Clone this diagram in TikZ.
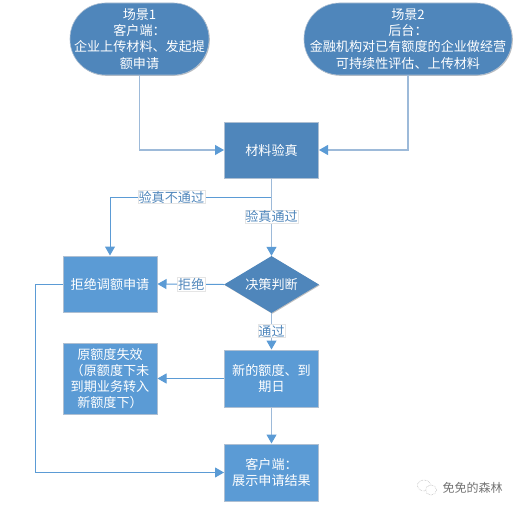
\documentclass[tikz,border=0pt]{standalone}
\usepackage{fontspec}
\setmainfont{Noto Sans CJK SC}
\usetikzlibrary{arrows.meta,shapes.geometric,shadows}
\definecolor{darkblue}{HTML}{4F86BB}
\definecolor{midblue}{HTML}{5B9BD5}
\definecolor{edgegray}{HTML}{AEBFD2}
\definecolor{linklight}{HTML}{9DBAD9}
\tikzset{
  x=1pt,y=-1pt,
  txt/.style={text=white,font=\fontsize{13.1}{16.2}\selectfont,align=center,inner sep=0pt},
  softshadow/.style={drop shadow={shadow xshift=0.8pt,shadow yshift=-0.8pt,opacity=0.25,fill=black}},
  pill/.style={txt,draw=edgegray,line width=0.6pt,fill=darkblue,rectangle,rounded corners=35.5pt,softshadow},
  darkbox/.style={txt,draw=edgegray,line width=1pt,fill=darkblue,minimum width=94pt,softshadow},
  lightbox/.style={txt,draw=edgegray,line width=1pt,fill=midblue,minimum width=94pt,softshadow},
  decide/.style={txt,fill=darkblue,diamond,aspect=1.66,minimum width=95pt,minimum height=57pt,softshadow},
  link/.style={draw=midblue,line width=1pt,-{Triangle[length=9pt,width=10pt,color=midblue]}},
  linkpale/.style={link,draw=linklight,line width=1.1pt},
  tag/.style={text=darkblue,fill=white,draw=black!10,line width=0.4pt,font=\fontsize{13.1}{15}\selectfont,inner sep=0.6pt},
}
\begin{document}
\begin{tikzpicture}
\useasboundingbox (0,0) rectangle (519,511);
\fill[white] (0,0) rectangle (519,511);
\node[pill,minimum width=139pt,minimum height=72pt] (s1) at (139.5,39) {场景1\\客户端：\\企业上传材料、发起提\\额申请};
\node[pill,minimum width=208pt,minimum height=72pt] (s2) at (408,39) {场景2\\后台：\\金融机构对已有额度的企业做经营\\可持续性评估、上传材料};
\node[darkbox,minimum height=56pt] (verify) at (271.5,150) {材料验真};
\node[decide] (judge) at (271.5,284.5) {决策判断};
\node[lightbox,minimum height=56pt] (reject) at (110,284) {拒绝调额申请};
\node[lightbox,minimum height=71pt] (old) at (110,378.5) {原额度失效\\（原额度下未\\到期业务转入\\新额度下）};
\node[lightbox,minimum height=57pt] (new) at (271.5,378.5) {新的额度、到\\期日};
\node[lightbox,minimum height=57pt] (client) at (271.5,472.5) {客户端：\\展示申请结果};
\coordinate (a1) at (s1.south |- verify.west);
\coordinate (a2) at (s2.south |- verify.east);
\draw[linkpale] (s1.south) -- (a1) -- (verify.west);
\draw[linkpale] (s2.south) -- (a2) -- (verify.east);
\coordinate (b1) at (271.5,197);
\coordinate (b2) at (reject.north |- b1);
\draw[link] (verify.south) -- (b1) -- node[tag,pos=0.62] {验真不通过} (b2) -- (reject.north);
\draw[linkpale] (verify.south) -- node[tag,pos=0.49] {验真通过} (judge.north);
\draw[link] (judge.west) -- node[tag,pos=0.49] {拒绝} (reject.east);
\draw[linkpale] (judge.south) -- node[tag,pos=0.49] {通过} (new.north);
\draw[link] (new.west) -- (old.east);
\draw[linkpale] (new.south) -- (client.north);
\coordinate (c1) at (35,284);
\coordinate (c2) at (35,472.5);
\draw[link] (reject.west) -- (c1) -- (c2) -- (client.west);
\node[text=black!55,font=\fontsize{12}{14}\selectfont,inner sep=0pt] (wm) at (472.5,488) {免免的森林};
\coordinate (ic1) at (424,485.5);
\coordinate (ic2) at (431,490);
\draw[black!35,line width=0.5pt,densely dotted,fill=white] (ic1) ellipse (6.5pt and 5.5pt);
\draw[black!35,line width=0.5pt,densely dotted,fill=white] (ic2) ellipse (5.5pt and 5pt);
\end{tikzpicture}
\end{document}
